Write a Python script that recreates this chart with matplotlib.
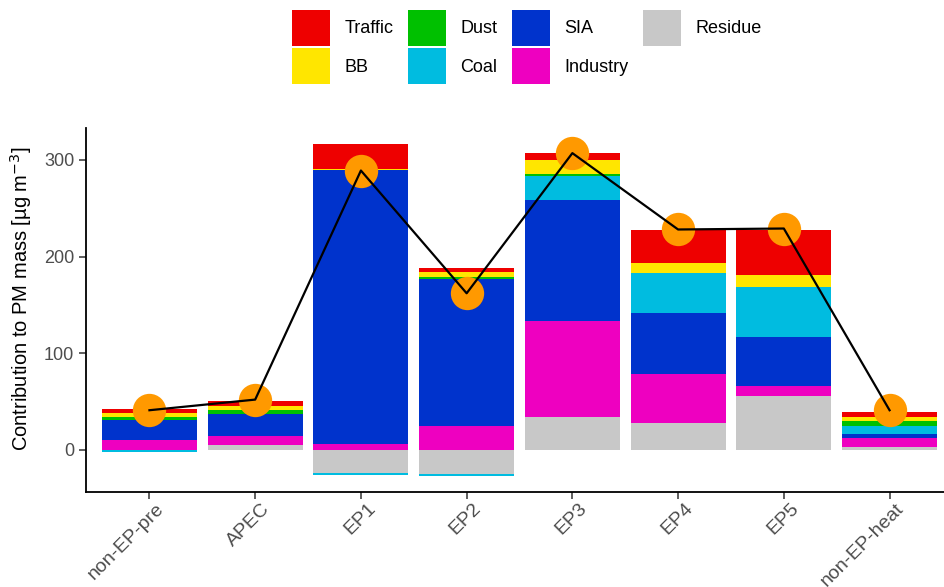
import numpy as np
import matplotlib.pyplot as plt
from matplotlib.patches import Patch
import matplotlib.transforms as mtransforms

plt.rcParams['font.family'] = ['Liberation Sans', 'DejaVu Sans']

categories = ["non-EP-pre", "APEC", "EP1", "EP2", "EP3", "EP4", "EP5", "non-EP-heat"]

# source contributions (ug m-3), stacked from the bottom up
residue = [0, 5, -24, -25, 33.5, 27.5, 56, 3]
industry = [10, 9, 6, 25, 100, 51.5, 10.5, 9.5]
sia = [20.5, 23.5, 284, 152, 125.5, 63, 50, 3.5]
coal = [-2, 0, -2.5, -2.5, 24, 40.5, 51.5, 8.5]
dust = [4, 3.5, 0, 1.5, 2.5, 0, 0, 5]
bb = [3.5, 4, 1, 5, 14.5, 10.5, 12.5, 4.5]
traffic = [4, 6, 25, 4.5, 7.5, 34, 47, 5.5]

# measured PM mass
pm_mass = [41, 52, 289, 162, 307, 228, 229, 41]

sources = [
    ("Residue", residue, "#C8C8C8"),
    ("Industry", industry, "#EE00C0"),
    ("SIA", sia, "#0033CC"),
    ("Coal", coal, "#00BCE0"),
    ("Dust", dust, "#00C000"),
    ("BB", bb, "#FFE600"),
    ("Traffic", traffic, "#EE0000"),
]
colors = {name: c for name, _, c in sources}

fig = plt.figure(figsize=(9.45, 5.87), dpi=100)
ax = fig.add_axes([86 / 945, 95 / 587, 867 / 945, 364 / 587])

x = np.arange(len(categories))
pos_base = np.zeros(len(x))
neg_base = np.zeros(len(x))
for name, vals, color in sources:
    vals = np.array(vals, dtype=float)
    bottom = np.where(vals >= 0, pos_base, neg_base)
    ax.bar(x, vals, 0.9, bottom=bottom, color=color, linewidth=0, zorder=2)
    pos_base += np.clip(vals, 0, None)
    neg_base += np.clip(vals, None, 0)

ax.plot(x, pm_mass, "o", ms=24, color="#FF9900", markeredgewidth=0, zorder=3)
ax.plot(x, pm_mass, color="black", lw=1.6, zorder=4)

ax.set_xlim(-0.6, 7.6)
ax.set_ylim(-43.6, 333)
ax.set_yticks([0, 100, 200, 300])
ax.set_xticks(x)
ax.set_xticklabels([])

# rotated category labels, anchored at their right end just below each tick
label_tf = mtransforms.blended_transform_factory(ax.transData, ax.transAxes) + \
    mtransforms.ScaledTranslation(12 / 100, -14 / 100, fig.dpi_scale_trans)
for xi, name in zip(x, categories):
    ax.text(xi, 0, name, transform=label_tf, rotation=45, ha="right", va="center",
            rotation_mode="anchor", fontsize=14, color="#4D4D4D", clip_on=False)

for side in ["top", "right"]:
    ax.spines[side].set_visible(False)
for side in ["left", "bottom"]:
    ax.spines[side].set_linewidth(1.3)
ax.tick_params(labelcolor="#4D4D4D", color="#333333", length=5, width=1.1)
ax.tick_params(axis="y", labelsize=13)

ax.set_ylabel("Contribution to PM mass [µg m$^{-3}$]", fontsize=14.5, color="black")
ax.yaxis.set_label_coords(-0.06, 0.53)

legend_order = ["Traffic", "BB", "Dust", "Coal", "SIA", "Industry", "Residue"]
handles = [Patch(facecolor=colors[n], edgecolor="none", label=n) for n in legend_order]
fig.legend(handles=handles, ncol=4, loc="center", bbox_to_anchor=(527 / 945, 1 - 47 / 587),
           frameon=False, fontsize=13, handlelength=2.1, handleheight=2.65,
           handletextpad=0.8, columnspacing=0.8, labelspacing=0.15)

fig.savefig("out.png", dpi=100)
